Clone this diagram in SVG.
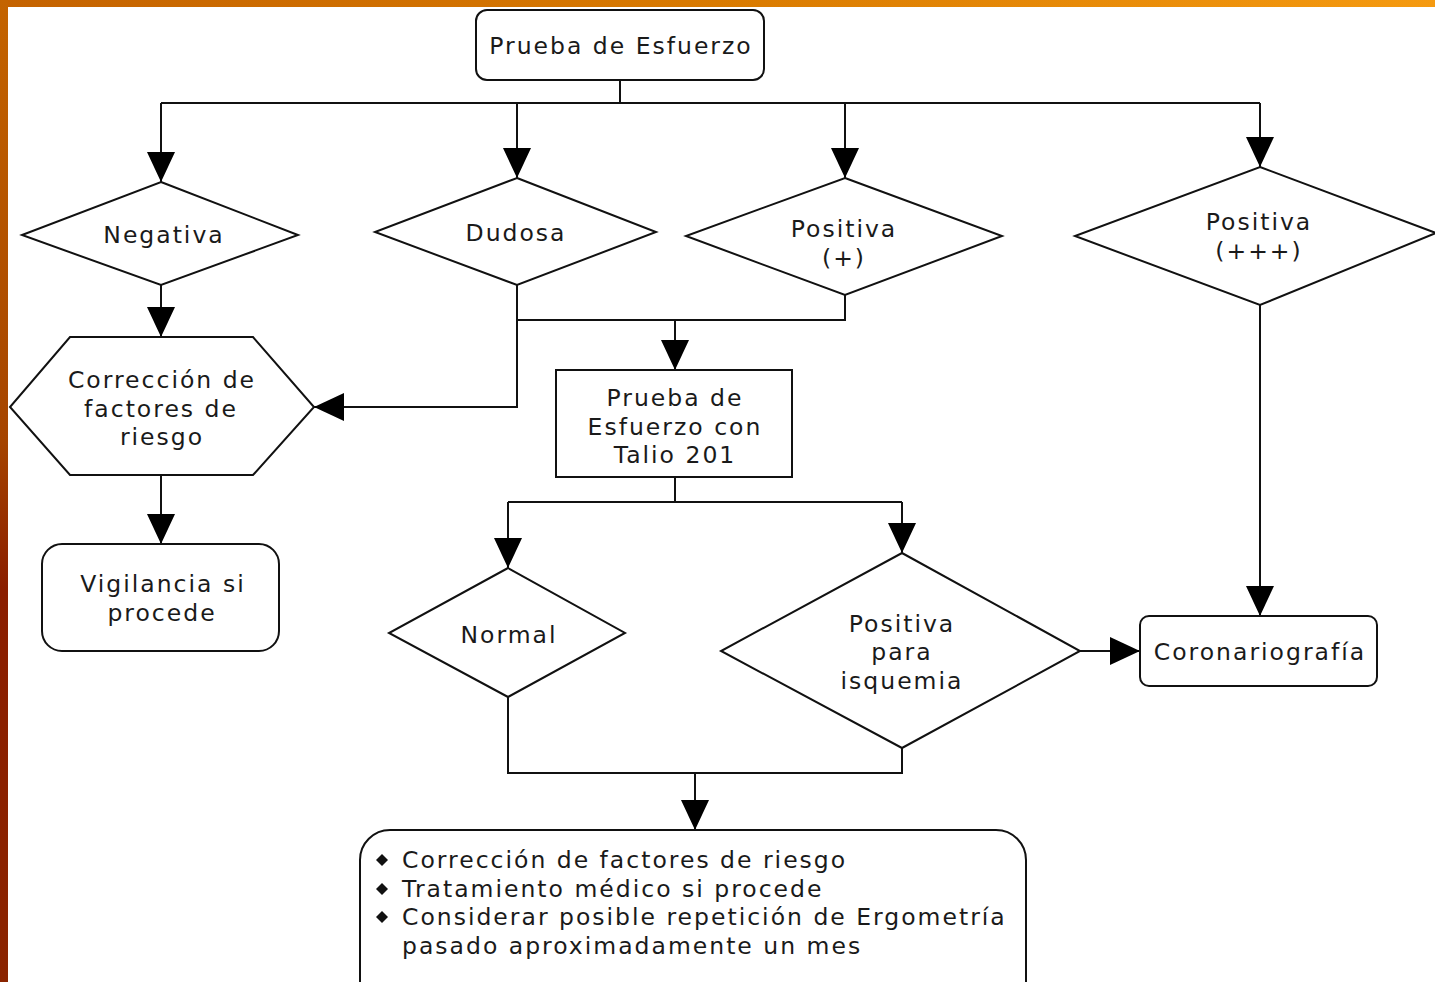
<svg xmlns="http://www.w3.org/2000/svg" width="1435" height="982" viewBox="0 0 1435 982">
<defs>
<linearGradient id="topg" x1="0" y1="0" x2="1" y2="0"><stop offset="0" stop-color="#c46200"/><stop offset="0.5" stop-color="#d97a00"/><stop offset="1" stop-color="#f59a10"/></linearGradient>
<linearGradient id="leftg" x1="0" y1="0" x2="0" y2="1"><stop offset="0" stop-color="#c46400"/><stop offset="0.45" stop-color="#a54400"/><stop offset="0.6" stop-color="#8a1e00"/><stop offset="1" stop-color="#8a2400"/></linearGradient>
<marker id="ah" markerUnits="userSpaceOnUse" markerWidth="30" markerHeight="28" refX="30" refY="14" orient="auto">
<path d="M0,0 L30,14 L0,28 Z" fill="#000"/>
</marker>
<style>
.n{fill:#fff;stroke:#111;stroke-width:2}
.t{font-family:"DejaVu Sans",Verdana,sans-serif;font-size:23.5px;letter-spacing:2px;fill:#1a1a1a;text-anchor:middle}
.l{font-family:"DejaVu Sans",Verdana,sans-serif;font-size:23.5px;letter-spacing:2px;fill:#1a1a1a}
.c{fill:none;stroke:#111;stroke-width:2}
</style>
</defs>
<rect x="0" y="0" width="1435" height="982" fill="#fff"/>
<rect x="0" y="0" width="1435" height="7" fill="url(#topg)"/>
<rect x="0" y="0" width="8" height="982" fill="url(#leftg)"/>

<g id="connectors">
<path class="c" d="M620,80 V103 M161,103 H1260"/>
<path class="c" d="M161,103 V182" marker-end="url(#ah)"/>
<path class="c" d="M517,103 V178" marker-end="url(#ah)"/>
<path class="c" d="M845,103 V178" marker-end="url(#ah)"/>
<path class="c" d="M1260,103 V167" marker-end="url(#ah)"/>
<path class="c" d="M161,285 V337" marker-end="url(#ah)"/>
<path class="c" d="M517,285 V320 H845 V295"/>
<path class="c" d="M517,320 V407 H314" marker-end="url(#ah)"/>
<path class="c" d="M675,320 V370" marker-end="url(#ah)"/>
<path class="c" d="M161,475 V544" marker-end="url(#ah)"/>
<path class="c" d="M675,477 V502 M508,502 H902"/>
<path class="c" d="M508,502 V568" marker-end="url(#ah)"/>
<path class="c" d="M902,502 V553" marker-end="url(#ah)"/>
<path class="c" d="M1080,651 H1140" marker-end="url(#ah)"/>
<path class="c" d="M1260,305 V616" marker-end="url(#ah)"/>
<path class="c" d="M508,697 V773 H902 V748"/>
<path class="c" d="M695,773 V830" marker-end="url(#ah)"/>
</g>

<g id="n-prueba">
<rect class="n" x="476" y="10" width="288" height="70" rx="11"/>
<text class="t" x="621" y="54">Prueba de Esfuerzo</text>
</g>
<g id="n-negativa">
<polygon class="n" points="161,182 298,235 161,285 22,235"/>
<text class="t" x="164" y="243">Negativa</text>
</g>
<g id="n-dudosa">
<polygon class="n" points="517,178 656,232 517,285 375,232"/>
<text class="t" x="516" y="241">Dudosa</text>
</g>
<g id="n-positiva1">
<polygon class="n" points="845,178 1002,236 845,295 686,236"/>
<text class="t" x="844" y="237">Positiva</text>
<text class="t" x="844" y="266">(+)</text>
</g>
<g id="n-positiva3">
<polygon class="n" points="1260,167 1436,233 1260,305 1075,236"/>
<text class="t" x="1259" y="230">Positiva</text>
<text class="t" x="1259" y="259">(+++)</text>
</g>
<g id="n-correccion">
<polygon class="n" points="70,337 253,337 314,407 253,475 70,475 10,407"/>
<text class="t" x="162" y="388">Corrección de</text>
<text class="t" x="161" y="417">factores de</text>
<text class="t" x="162" y="445">riesgo</text>
</g>
<g id="n-talio">
<rect class="n" x="556" y="370" width="236" height="107"/>
<text class="t" x="675" y="406">Prueba de</text>
<text class="t" x="675" y="435">Esfuerzo con</text>
<text class="t" x="675" y="463">Talio 201</text>
</g>
<g id="n-vigilancia">
<rect class="n" x="42" y="544" width="237" height="107" rx="20"/>
<text class="t" x="163" y="592">Vigilancia si</text>
<text class="t" x="162" y="621">procede</text>
</g>
<g id="n-normal">
<polygon class="n" points="508,568 625,633 508,697 389,633"/>
<text class="t" x="509" y="643">Normal</text>
</g>
<g id="n-isquemia">
<polygon class="n" points="902,553 1080,651 902,748 721,651"/>
<text class="t" x="902" y="632">Positiva</text>
<text class="t" x="902" y="660">para</text>
<text class="t" x="902" y="689">isquemia</text>
</g>
<g id="n-corono">
<rect class="n" x="1140" y="616" width="237" height="70" rx="9"/>
<text class="t" x="1260" y="660">Coronariografía</text>
</g>
<g id="n-final">
<rect class="n" x="360" y="830" width="666" height="190" rx="30"/>
<path d="M382,854 L388,860 L382,866 L376,860 Z" fill="#111"/>
<path d="M382,883 L388,889 L382,895 L376,889 Z" fill="#111"/>
<path d="M382,911 L388,917 L382,923 L376,917 Z" fill="#111"/>
<text class="l" x="402" y="868">Corrección de factores de riesgo</text>
<text class="l" x="402" y="897">Tratamiento médico si procede</text>
<text class="l" x="402" y="925">Considerar posible repetición de Ergometría</text>
<text class="l" x="402" y="954">pasado aproximadamente un mes</text>
</g>
</svg>
